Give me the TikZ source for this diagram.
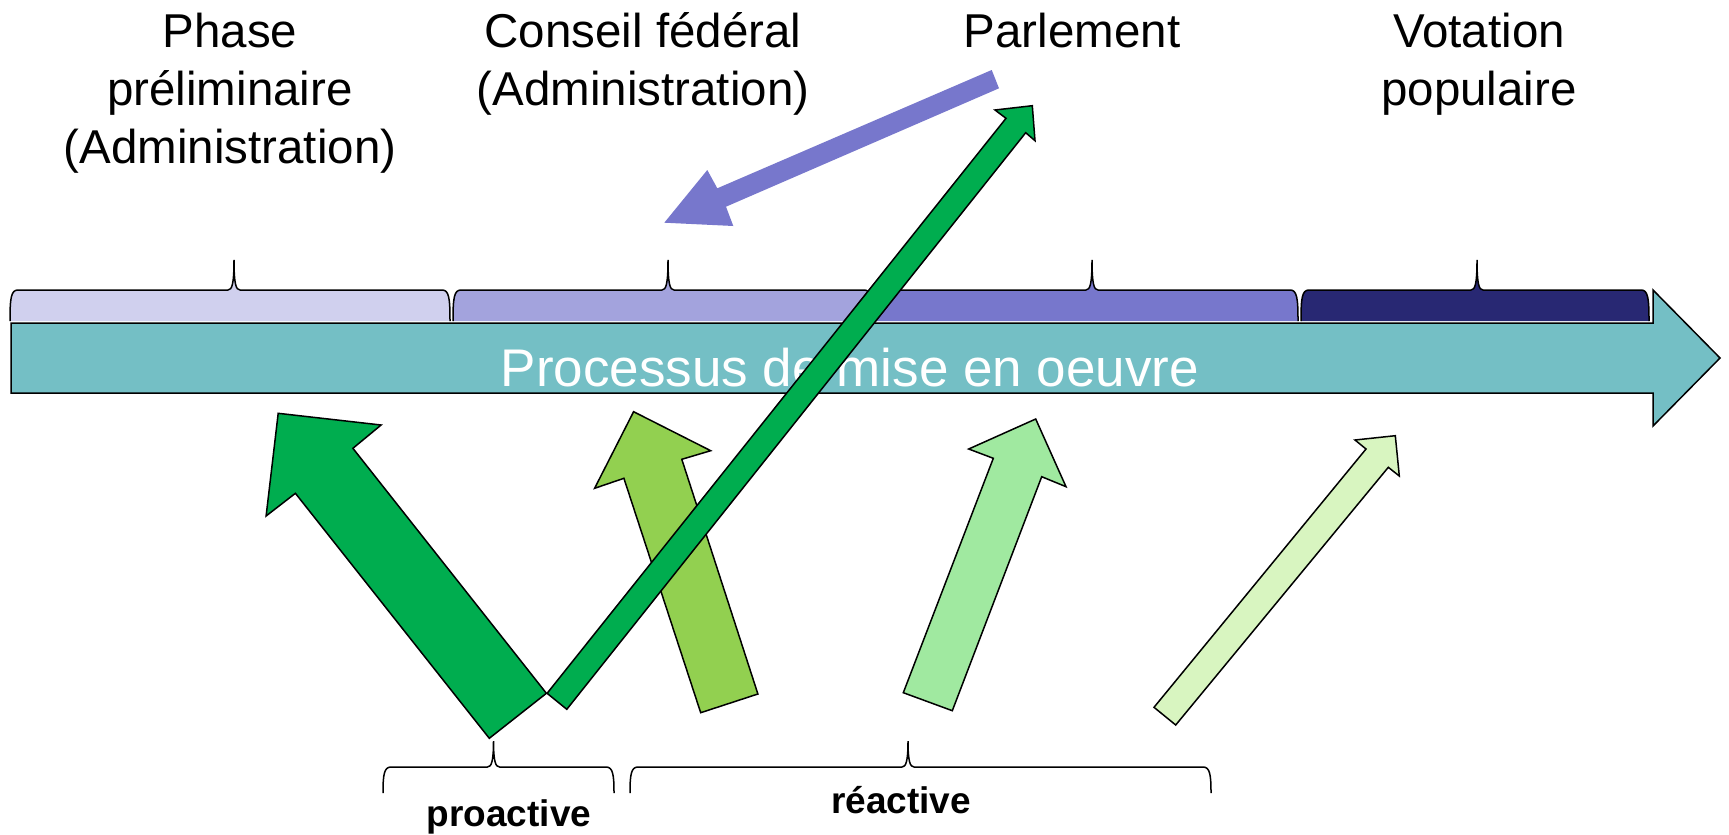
\documentclass[tikz,border=0pt]{standalone}
\usepackage{fontspec}
\setmainfont{Liberation Sans}
\definecolor{tealmain}{HTML}{74BFC5}
\definecolor{barA}{HTML}{D0D0EE}
\definecolor{barB}{HTML}{A3A3DD}
\definecolor{barC}{HTML}{7777CC}
\definecolor{barD}{HTML}{282873}
\definecolor{purparrow}{HTML}{7777CC}
\definecolor{darkgreen}{HTML}{00AD4F}
\definecolor{limegreen}{HTML}{92D050}
\definecolor{midgreen}{HTML}{A0E9A0}
\definecolor{palegreen}{HTML}{D8F5C0}
% #1 x0, #2 xm (peak), #3 x1, #4 ybot, #5 ytop, #6 ypeak
\newcommand\bracepth[6]{(#1,#4) .. controls (#1,#5+8) and (#1+1,#5) .. (#1+8,#5) -- (#2-6,#5) .. controls (#2-2,#5) and (#2,#5-6) .. (#2,#6) .. controls (#2,#5-6) and (#2+2,#5) .. (#2+6,#5) -- (#3-8,#5) .. controls (#3-1,#5) and (#3,#5+8) .. (#3,#4)}
\begin{document}
\begin{tikzpicture}[x=1pt,y=-1pt,
  outl/.style={draw=black,line width=1.5pt,line join=miter},
  bracestroke/.style={draw=black,line width=1.5pt},
  lbl/.style={anchor=base,inner sep=0pt,font=\fontsize{47.5}{57}\selectfont},
  blbl/.style={anchor=base,inner sep=0pt,font=\fontsize{37}{44}\selectfont\bfseries},
  mainlbl/.style={anchor=base,inner sep=0pt,text=white,font=\fontsize{53}{60}\selectfont}]
\useasboundingbox[fill=white] (0,0) rectangle (1729,835);

% top labels
\node[lbl] (ph1) at (230,47) {Phase};
\node[lbl] (ph2) at (230,105) {préliminaire};
\node[lbl] (ph3) at (230,163) {(Administration)};
\node[lbl] (cf1) at (643,47) {Conseil fédéral};
\node[lbl] (cf2) at (643,105) {(Administration)};
\node[lbl] (parl) at (1072,47) {Parlement};
\node[lbl] (vp1) at (1479,47) {Votation};
\node[lbl] (vp2) at (1479,105) {populaire};

% phase bars
\fill[barA] \bracepth{10}{234}{450}{321}{290}{260} -- cycle;
\draw[bracestroke] \bracepth{10}{234}{450}{321}{290}{260};
\fill[barB] \bracepth{453}{668}{872}{321}{290}{260} -- cycle;
\draw[bracestroke] \bracepth{453}{668}{872}{321}{290}{260};
\fill[barC] \bracepth{873}{1092}{1298}{321}{290}{260} -- cycle;
\draw[bracestroke] \bracepth{873}{1092}{1298}{321}{290}{260};
\fill[barD] \bracepth{1301}{1477}{1649}{321}{290}{260} -- cycle;
\draw[bracestroke] \bracepth{1301}{1477}{1649}{321}{290}{260};

% main process arrow
\draw[outl,fill=tealmain] (11,323) -- (1653,323) -- (1653,290) -- (1720,358) -- (1653,426) -- (1653,393) -- (11,393) -- cycle;
\node[mainlbl] (proc) at (850,386) {Processus de mise en oeuvre};

% purple arrow (Parlement -> Conseil federal)
\fill[purparrow] (991.7,70) -- (717.3,188.3) -- (707.3,170) -- (664.3,222.7) -- (733.3,226) -- (726,206.7) -- (999,88.3) -- cycle;

% green arrows
\draw[outl,fill=darkgreen] (278.2,413.3) -- (381.1,425) -- (352.9,448.3) -- (546.4,693.3) -- (489.3,738.3) -- (295.4,493.3) -- (266.1,516) -- cycle;
\draw[outl,fill=limegreen] (633.6,411.7) -- (710.7,450.7) -- (681.8,459.3) -- (757.9,694) -- (700.7,712.7) -- (623.9,478.3) -- (594.6,488.3) -- cycle;
\draw[outl,fill=midgreen] (1035.7,419) -- (1066,486.7) -- (1041.7,476.7) -- (952.3,710.7) -- (903.3,692.7) -- (993.3,458.3) -- (968.7,449) -- cycle;
\draw[outl,fill=palegreen] (1395.3,435.7) -- (1399.3,476) -- (1388.3,467.3) -- (1175.7,725) -- (1154,707.3) -- (1366,449) -- (1355,440) -- cycle;
\draw[outl,fill=darkgreen] (547.1,693.3) -- (1006,118.3) -- (995,110) -- (1032.3,105.7) -- (1035,140.7) -- (1025.7,132.7) -- (566.8,709.3) -- cycle;

% bottom braces
\draw[bracestroke] \bracepth{383}{493.5}{614}{793}{767}{741};
\draw[bracestroke] \bracepth{630}{908}{1211}{793}{767}{741};
\node[blbl] (proact) at (509,826) {proactive};
\node[blbl] (react) at (901,813) {réactive};
\end{tikzpicture}
\end{document}
